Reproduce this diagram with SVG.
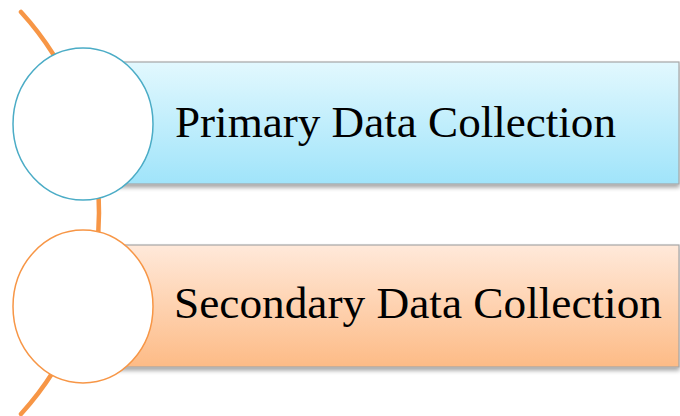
<svg xmlns="http://www.w3.org/2000/svg" width="680" height="416" viewBox="0 0 680 416">
<defs>
<linearGradient id="gBlue" x1="0" y1="0" x2="0" y2="1">
<stop offset="0" stop-color="#e2f8fe"/>
<stop offset="1" stop-color="#a0e4fa"/>
</linearGradient>
<linearGradient id="gOrange" x1="0" y1="0" x2="0" y2="1">
<stop offset="0" stop-color="#ffe9da"/>
<stop offset="1" stop-color="#fdbb86"/>
</linearGradient>
<filter id="sh" x="-5%" y="-10%" width="110%" height="130%">
<feGaussianBlur in="SourceAlpha" stdDeviation="2"/>
<feOffset dx="0" dy="3" result="b"/>
<feComponentTransfer><feFuncA type="linear" slope="0.35"/></feComponentTransfer>
<feMerge><feMergeNode/><feMergeNode in="SourceGraphic"/></feMerge>
</filter>
<style>
.bar{stroke:#a6a6a6;stroke-width:1.2}
.lbl{font-family:"Liberation Serif","DejaVu Serif",serif;font-size:45px;fill:#000}
.circ{fill:#fff;stroke-width:1.5}
</style>
</defs>
<g id="connectors">
<path d="M21,12 A298,298 0 0 1 21,414" fill="none" stroke="#f79646" stroke-width="4.5" stroke-linecap="round"/>
</g>
<g id="node-primary">
<rect class="bar" x="95" y="62" width="584" height="122" fill="url(#gBlue)" filter="url(#sh)"/>
<ellipse class="circ" cx="83" cy="124" rx="70" ry="76" stroke="#4bacc6"/>
<text class="lbl" x="175" y="137" textLength="441" lengthAdjust="spacingAndGlyphs">Primary Data Collection</text>
</g>
<g id="node-secondary">
<rect class="bar" x="95" y="245" width="584" height="122" fill="url(#gOrange)" filter="url(#sh)"/>
<ellipse class="circ" cx="83" cy="306.5" rx="70" ry="76.5" stroke="#f79646"/>
<text class="lbl" x="174" y="318" textLength="488" lengthAdjust="spacingAndGlyphs">Secondary Data Collection</text>
</g>
</svg>
